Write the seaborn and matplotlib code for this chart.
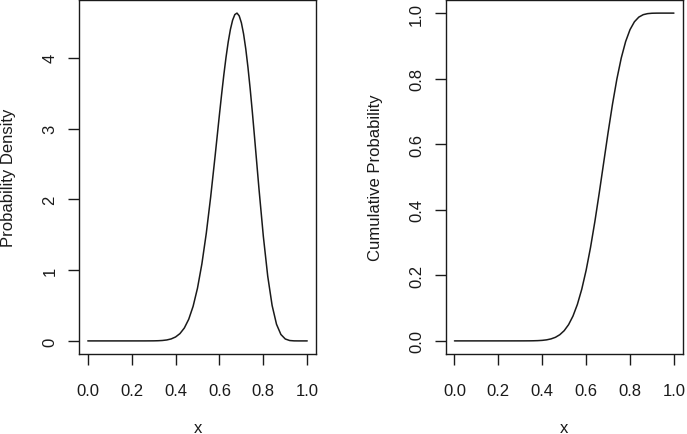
import matplotlib
matplotlib.use("Agg")
import matplotlib.pyplot as plt
import seaborn as sns
import pandas as pd

# Values
pdf_x = [0.00, 0.10, 0.20, 0.26, 0.30, 0.32, 0.34, 0.36, 0.38, 0.40, 0.42, 0.44,
         0.46, 0.48, 0.50, 0.52, 0.54, 0.56, 0.58, 0.60, 0.61, 0.62, 0.63, 0.64,
         0.65, 0.66, 0.67, 0.68, 0.69, 0.70, 0.71, 0.72, 0.73, 0.74, 0.75, 0.76,
         0.78, 0.80, 0.82, 0.84, 0.86, 0.88, 0.90, 0.92, 0.94, 0.96, 1.00]
pdf_y = [0.0, 0.0, 0.0, 0.0001, 0.0009, 0.0025, 0.0060, 0.0134, 0.0281, 0.0555,
         0.1033, 0.1824, 0.3059, 0.489, 0.746, 1.089, 1.520, 2.034, 2.606, 3.199,
         3.487, 3.760, 4.008, 4.225, 4.402, 4.532, 4.611, 4.632, 4.593, 4.495,
         4.337, 4.125, 3.864, 3.563, 3.231, 2.877, 2.154, 1.478, 0.915, 0.501,
         0.2357, 0.0911, 0.0271, 0.0055, 0.0006, 0.0, 0.0]

cdf_x = [0.00, 0.10, 0.20, 0.26, 0.30, 0.32, 0.34, 0.36, 0.38, 0.40, 0.42, 0.44,
         0.46, 0.48, 0.50, 0.52, 0.54, 0.56, 0.58, 0.60, 0.62, 0.64, 0.66, 0.68,
         0.70, 0.72, 0.74, 0.76, 0.78, 0.80, 0.82, 0.84, 0.86, 0.88, 0.90, 0.92,
         0.94, 1.00]
cdf_y = [0.0, 0.0, 0.0, 0.00001, 0.00005, 0.00008, 0.00017, 0.00036, 0.00078,
         0.0016, 0.0032, 0.0061, 0.0109, 0.0189, 0.0312, 0.0496, 0.0757, 0.1112,
         0.1576, 0.2157, 0.2853, 0.3651, 0.4527, 0.5443, 0.6356, 0.7218, 0.7987,
         0.8631, 0.9134, 0.9497, 0.9736, 0.9878, 0.9952, 0.9984, 0.9996, 0.9999,
         1.0, 1.0]

x_ticks = [0.0, 0.2, 0.4, 0.6, 0.8, 1.0]
x_tick_labels = ["0.0", "0.2", "0.4", "0.6", "0.8", "1.0"]
pdf_ticks = [0, 1, 2, 3, 4]
pdf_tick_labels = ["0", "1", "2", "3", "4"]
cdf_ticks = [0.0, 0.2, 0.4, 0.6, 0.8, 1.0]
cdf_tick_labels = ["0.0", "0.2", "0.4", "0.6", "0.8", "1.0"]

sns.set_style("ticks")
plt.rcParams["font.family"] = ["Liberation Sans", "DejaVu Sans"]

W, H = 687, 435
fig = plt.figure(figsize=(W / 100, H / 100), dpi=100)
bottom = 1 - 355 / H
height = 354 / H
ax1 = fig.add_axes([79 / W, bottom, 237 / W, height])
ax2 = fig.add_axes([445.7 / W, bottom, 237 / W, height])

df_pdf = pd.DataFrame({"x": pdf_x, "y": pdf_y})
df_cdf = pd.DataFrame({"x": cdf_x, "y": cdf_y})

ink = "#1a1a1a"
sns.lineplot(data=df_pdf, x="x", y="y", ax=ax1, color=ink, linewidth=1.1)
sns.lineplot(data=df_cdf, x="x", y="y", ax=ax2, color=ink, linewidth=1.1)

ax1.set_xlim(-0.04, 1.04)
ax1.set_ylim(-0.185, 4.817)
ax2.set_xlim(-0.04, 1.04)
ax2.set_ylim(-0.04, 1.04)

for ax, yt, ytl, ylab in [(ax1, pdf_ticks, pdf_tick_labels, "Probability Density"),
                          (ax2, cdf_ticks, cdf_tick_labels, "Cumulative Probability")]:
    ax.set_xticks(x_ticks)
    ax.set_xticklabels(x_tick_labels)
    ax.set_yticks(yt)
    ax.set_yticklabels(ytl, rotation=90, va="center")
    ax.tick_params(axis="both", direction="out", length=8, width=1.0,
                   color=ink, labelsize=12, labelcolor=ink)
    ax.tick_params(axis="x", pad=13)
    ax.tick_params(axis="y", pad=7.5)
    for s in ax.spines.values():
        s.set_visible(True)
        s.set_linewidth(1.0)
        s.set_color(ink)
    ax.grid(False)
    ax.set_facecolor("white")
    ax.set_xlabel("x", fontsize=12, color=ink, va="center")
    ax.xaxis.set_label_coords(0.5, (355 - 429) / 354)
    ax.set_ylabel(ylab, fontsize=12, color=ink, va="center")
    ax.yaxis.set_label_coords(-(79 - 8.5) / 237, 0.5)

fig.savefig("out.png", dpi=100, facecolor="white")
